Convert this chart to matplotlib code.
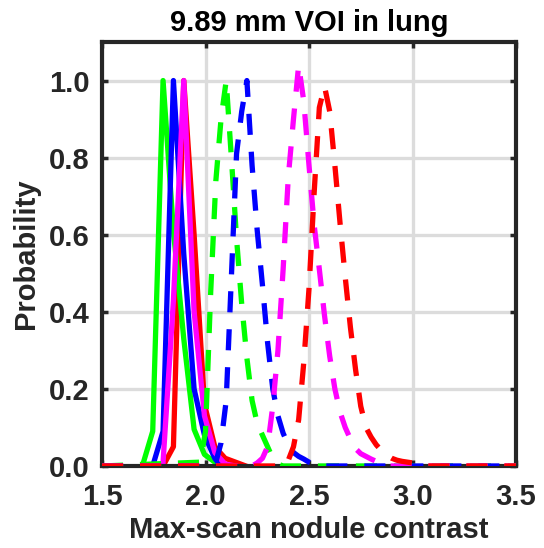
import matplotlib
matplotlib.use("Agg")
import matplotlib.pyplot as plt

plt.rcParams['font.family'] = ['Liberation Sans', 'DejaVu Sans']
plt.rcParams['font.weight'] = 'bold'

# solid curves (coarse bins)
solid_x_green = [1.695, 1.745, 1.795, 1.845, 1.895, 1.945, 1.995, 2.045, 2.095]
solid_y_green = [0.0, 0.09, 1.0, 0.61, 0.33, 0.095, 0.03, 0.01, 0.0]
solid_x_blue = [1.745, 1.795, 1.845, 1.895, 1.945, 1.995, 2.045, 2.095]
solid_y_blue = [0.0, 0.09, 1.0, 0.55, 0.2, 0.08, 0.02, 0.0]
solid_x_magenta = [1.795, 1.845, 1.895, 1.945, 1.995, 2.045, 2.095, 2.145]
solid_y_magenta = [0.01, 0.43, 1.0, 0.4, 0.13, 0.035, 0.005, 0.0]
solid_x_red = [1.795, 1.845, 1.895, 1.945, 1.995, 2.045, 2.095, 2.145, 2.195]
solid_y_red = [0.0, 0.05, 1.0, 0.6, 0.16, 0.05, 0.02, 0.01, 0.0]

# dashed curves
dash_x_green = [1.5, 1.975, 2.0, 2.025, 2.05, 2.075, 2.1, 2.125, 2.15, 2.175, 2.2,
                2.225, 2.25, 2.275, 2.3, 2.325, 2.35, 2.375, 3.5]
dash_y_green = [0.0, 0.01, 0.09, 0.45, 0.74, 0.90, 1.0, 0.80, 0.59, 0.42, 0.28,
                0.17, 0.11, 0.08, 0.05, 0.02, 0.005, 0.0, 0.0]
dash_x_blue = [1.5, 2.025, 2.05, 2.075, 2.1, 2.125, 2.15, 2.175, 2.2, 2.225, 2.25,
               2.275, 2.3, 2.325, 2.35, 2.375, 2.4, 2.425, 2.45, 2.475, 2.5,
               2.525, 2.55, 3.5]
dash_y_blue = [0.0, 0.0, 0.01, 0.06, 0.17, 0.49, 0.81, 0.92, 1.0, 0.78, 0.61,
               0.47, 0.32, 0.2, 0.13, 0.085, 0.055, 0.035, 0.025, 0.018, 0.01,
               0.005, 0.0, 0.0]
dash_x_magenta = [1.5, 2.225, 2.25, 2.275, 2.3, 2.325, 2.35, 2.375, 2.4, 2.425, 2.45,
                  2.475, 2.5, 2.525, 2.55, 2.575, 2.6, 2.625, 2.65, 2.675, 2.7,
                  2.725, 2.75, 2.775, 2.8, 2.825, 2.85, 2.875, 3.5]
dash_y_magenta = [0.0, 0.0, 0.008, 0.02, 0.05, 0.155, 0.30, 0.51, 0.75, 0.90, 1.04,
                  0.945, 0.78, 0.625, 0.51, 0.39, 0.285, 0.2, 0.14, 0.1, 0.07,
                  0.045, 0.032, 0.025, 0.018, 0.012, 0.005, 0.0, 0.0]
dash_x_red = [1.5, 2.375, 2.4, 2.425, 2.45, 2.475, 2.5, 2.525, 2.55, 2.575, 2.6,
              2.625, 2.65, 2.675, 2.7, 2.725, 2.75, 2.775, 2.8, 2.825, 2.85,
              2.875, 2.9, 2.925, 2.95, 2.975, 3.0, 3.025, 3.05, 3.5]
dash_y_red = [0.0, 0.0, 0.015, 0.05, 0.12, 0.27, 0.46, 0.71, 0.93, 0.985, 0.92,
              0.78, 0.63, 0.49, 0.36, 0.25, 0.155, 0.1, 0.075, 0.055, 0.04,
              0.028, 0.02, 0.015, 0.012, 0.01, 0.008, 0.004, 0.0, 0.0]

xticks = [1.5, 2.0, 2.5, 3.0, 3.5]
yticks = [0.0, 0.2, 0.4, 0.6, 0.8, 1.0]

fig = plt.figure(figsize=(5.44, 5.48), dpi=100)
ax = fig.add_axes([102/544, 82/548, 414/544, 424/548])

lw = 3.8
ax.plot(solid_x_red, solid_y_red, color='red', lw=lw, zorder=2)
ax.plot(solid_x_green, solid_y_green, color='lime', lw=lw, zorder=2)
ax.plot(solid_x_blue, solid_y_blue, color='blue', lw=lw, zorder=2)
ax.plot(solid_x_magenta, solid_y_magenta, color='magenta', lw=lw, zorder=2)

ds = (0, (4, 3.2))
ax.plot(dash_x_green, dash_y_green, color='lime', lw=lw, ls=ds, zorder=3)
ax.plot(dash_x_blue, dash_y_blue, color='blue', lw=lw, ls=ds, zorder=3)
ax.plot(dash_x_magenta, dash_y_magenta, color='magenta', lw=lw, ls=ds, zorder=3)
ax.plot(dash_x_red, dash_y_red, color='red', lw=lw, ls=ds, zorder=3)

ax.set_xlim(1.5, 3.5)
ax.set_ylim(0, 1.1)
ax.set_xticks(xticks)
ax.set_yticks(yticks)
ax.set_xticklabels(['%.1f' % v for v in xticks])
ax.set_yticklabels(['%.1f' % v for v in yticks])
ax.grid(True, color='#dcdcdc', lw=2.4)
ax.set_axisbelow(True)
for s in ax.spines.values():
    s.set_linewidth(3.0)
    s.set_color('#262626')
    s.set_zorder(2.5)
ax.tick_params(direction='in', top=True, right=True, length=4, width=2.5,
               color='#262626', labelsize=21, labelcolor='#262626')
ax.tick_params(axis='x', pad=12)
ax.tick_params(axis='y', pad=9)

ax.set_title('9.89 mm VOI in lung', fontsize=21, fontweight='bold', pad=8)
ax.set_xlabel('Max-scan nodule contrast', fontsize=21, fontweight='bold',
              color='#262626', labelpad=4)
ax.set_ylabel('Probability', fontsize=21, fontweight='bold',
              color='#262626', labelpad=6)

fig.savefig('out.png', dpi=100)
